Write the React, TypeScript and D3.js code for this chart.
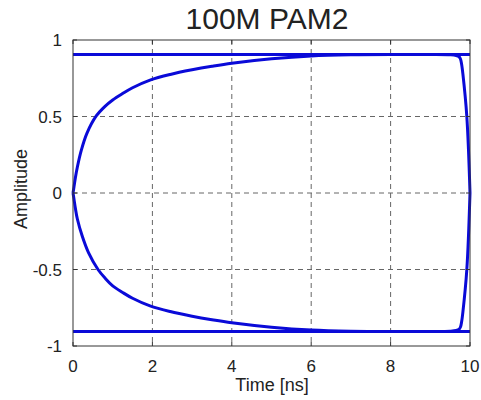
import React from "react";
import * as d3 from "d3";

const title = "100M PAM2";
const xTicks = [0, 2, 4, 6, 8, 10];
const yTicks = [-1, -0.5, 0, 0.5, 1];
const yTickLabels = ["-1", "-0.5", "0", "0.5", "1"];

// upper rising/falling trace [time ns, amplitude]
const upperCurve: [number, number][] = [
  [0, 0], [0.025, 0.04], [0.06, 0.1], [0.11, 0.17], [0.21, 0.28], [0.35, 0.39], [0.59, 0.505],
  [0.8, 0.565], [1.0, 0.608], [1.25, 0.65], [1.5, 0.688], [1.94, 0.738], [2.45, 0.775],
  [3, 0.805], [3.5, 0.828], [4, 0.848], [5, 0.877], [6, 0.896], [7, 0.904],
  [8, 0.906], [9, 0.905], [9.5, 0.903], [9.65, 0.899], [9.72, 0.892], [9.76, 0.876],
  [9.79, 0.84], [9.82, 0.78], [9.92, 0.5], [10, 0],
];
const lowerCurve: [number, number][] = [
  [0, 0], [0.025, -0.04], [0.06, -0.1], [0.11, -0.17], [0.23, -0.28], [0.39, -0.39], [0.63, -0.5],
  [0.82, -0.56], [1.0, -0.607], [1.25, -0.65], [1.5, -0.688], [1.94, -0.738], [2.45, -0.775],
  [3, -0.805], [3.5, -0.828], [4, -0.848], [5, -0.877], [6, -0.896], [7, -0.904],
  [8, -0.906], [9, -0.905], [9.5, -0.903], [9.65, -0.899], [9.72, -0.892], [9.76, -0.876],
  [9.79, -0.84], [9.82, -0.78], [9.92, -0.5], [10, 0],
];
const highLevel: [number, number][] = [[0, 0.905], [10, 0.905]];
const lowLevel: [number, number][] = [[0, -0.905], [10, -0.905]];

export default function App() {
  const W = 481, H = 400;
  const left = 73, right = 470, top = 40, bottom = 346;
  const x = d3.scaleLinear().domain([0, 10]).range([left, right]);
  const y = d3.scaleLinear().domain([-1, 1]).range([bottom, top]);
  const line = d3.line<[number, number]>().x(d => x(d[0])).y(d => y(d[1])).curve(d3.curveCatmullRom.alpha(0.5));
  const lineLin = d3.line<[number, number]>().x(d => x(d[0])).y(d => y(d[1]));
  const font = "Liberation Sans, Arial, sans-serif";
  const blue = "#0a0ad8";
  return (
    <svg width={W} height={H} style={{ position: "absolute", left: 0, top: 0, background: "#fff" }} fontFamily={font}>
      <rect x={0} y={0} width={W} height={H} fill="#fff" />
      <text x={267} y={29} textAnchor="middle" fontSize={30} fill="#222">{title}</text>
      {xTicks.filter(t => t > 0 && t < 10).map(t => (
        <line key={"gx" + t} x1={x(t)} x2={x(t)} y1={top} y2={bottom} stroke="#666" strokeWidth={1} strokeDasharray="5,4" />
      ))}
      {yTicks.filter(t => t > -1 && t < 1).map(t => (
        <line key={"gy" + t} x1={left} x2={right} y1={y(t)} y2={y(t)} stroke="#666" strokeWidth={1} strokeDasharray="5,4" />
      ))}
      <path d={lineLin(highLevel) || ""} fill="none" stroke={blue} strokeWidth={3} />
      <path d={lineLin(lowLevel) || ""} fill="none" stroke={blue} strokeWidth={3} />
      <path d={line(upperCurve) || ""} fill="none" stroke={blue} strokeWidth={3} strokeLinejoin="round" />
      <path d={line(lowerCurve) || ""} fill="none" stroke={blue} strokeWidth={3} strokeLinejoin="round" />
      <rect x={left} y={top} width={right - left} height={bottom - top} fill="none" stroke="#333" strokeWidth={1} />
      {xTicks.map(t => (
        <g key={"xt" + t}>
          <line x1={x(t)} x2={x(t)} y1={bottom} y2={bottom - 4} stroke="#333" />
          <line x1={x(t)} x2={x(t)} y1={top} y2={top + 4} stroke="#333" />
          <text x={x(t)} y={372} textAnchor="middle" fontSize={17} fill="#222">{t}</text>
        </g>
      ))}
      {yTicks.map((t, i) => (
        <g key={"yt" + t}>
          <line x1={left} x2={left + 4} y1={y(t)} y2={y(t)} stroke="#333" />
          <line x1={right} x2={right - 4} y1={y(t)} y2={y(t)} stroke="#333" />
          <text x={left - 11} y={y(t) + 6} textAnchor="end" fontSize={17} fill="#222">{yTickLabels[i]}</text>
        </g>
      ))}
      <text x={272} y={391} textAnchor="middle" fontSize={18} fill="#222">Time [ns]</text>
      <text transform={`translate(27,189) rotate(-90)`} textAnchor="middle" fontSize={18} fill="#222">Amplitude</text>
    </svg>
  );
}
